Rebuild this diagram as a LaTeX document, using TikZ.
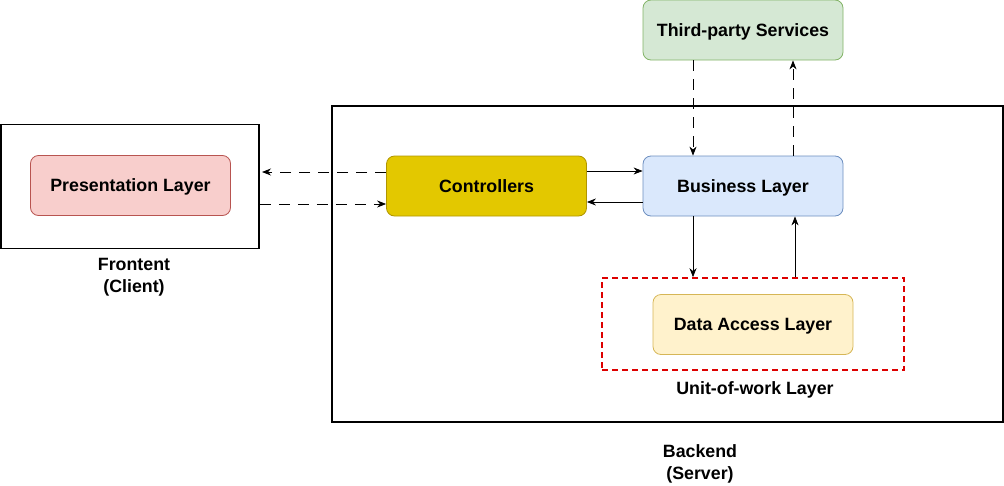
\documentclass[tikz,border=0pt]{standalone}
\usepackage{fontspec}
\setmainfont{Liberation Sans}
\usetikzlibrary{arrows.meta}
\definecolor{redF}{HTML}{F8CECC}\definecolor{redS}{HTML}{B85450}
\definecolor{yelF}{HTML}{E3C800}\definecolor{yelS}{HTML}{B09500}
\definecolor{bluF}{HTML}{DAE8FC}\definecolor{bluS}{HTML}{6C8EBF}
\definecolor{grnF}{HTML}{D5E8D4}\definecolor{grnS}{HTML}{82B366}
\definecolor{ltyF}{HTML}{FFF2CC}\definecolor{ltyS}{HTML}{D6B656}
\definecolor{uowS}{HTML}{DD0000}
\begin{document}
\begin{tikzpicture}[x=1pt,y=-1pt,
  lbl/.style={font=\fontsize{17.8}{22}\selectfont\bfseries},
  layer/.style={draw,rounded corners=8pt,minimum width=200pt,minimum height=60pt,line width=0.8pt,lbl,inner sep=0pt,text height=12.8pt,text depth=0pt},
  frame/.style={draw,line width=1.6pt,inner sep=0pt},
  arr/.style={-{Stealth[length=9pt,width=7pt]},line width=0.8pt},
  darr/.style={arr,dash pattern=on 11pt off 8pt}]
\useasboundingbox (0,0) rectangle (1004,485);
% frames
\node[frame,minimum width=258pt,minimum height=124pt] (front) at (130,186.5) {};
\node[frame,minimum width=671pt,minimum height=316pt] (back) at (667.5,264) {};
\node[draw=uowS,dash pattern=on 6pt off 4pt,line width=1.6pt,minimum width=302pt,minimum height=92pt,inner sep=0pt] (uow) at (753,324) {};
% layers
\node[layer,fill=redF,draw=redS] (pres) at (130.5,185.5) {Presentation Layer};
\node[layer,fill=yelF,draw=yelS] (ctrl) at (486.5,186) {Controllers};
\node[layer,fill=bluF,draw=bluS] (bus) at (743,186) {Business Layer};
\node[layer,fill=grnF,draw=grnS] (third) at (743,30) {Third-party Services};
\node[layer,fill=ltyF,draw=ltyS] (dal) at (753,324.5) {Data Access Layer};
% texts
\node[lbl,align=center] (ftxt) at (134,277.5) {Frontent\\(Client)};
\node[lbl] (utxt) at (755,390) {Unit-of-work Layer};
\node[lbl,align=center] (btxt) at (700,464) {Backend\\(Server)};
% coordinates
\coordinate (pl) at (262,172);
\coordinate (fr) at (front.east |- 0,204);
% arrows
\draw[darr] (ctrl.west |- pl) -- (pl);
\draw[darr] (fr) -- (ctrl.west |- fr);
\draw[arr] (ctrl.east |- 0,171) -- (bus.west |- 0,171);
\draw[arr] (bus.west |- 0,202) -- (ctrl.east |- 0,202);
\draw[darr] (third.south -| 693,0) -- (bus.north -| 693,0);
\draw[darr] (bus.north -| 793,0) -- (third.south -| 793,0);
\draw[arr] (bus.south -| 693,0) -- (uow.north -| 693,0);
\draw[arr] (uow.north -| 795,0) -- (bus.south -| 795,0);
\end{tikzpicture}
\end{document}
